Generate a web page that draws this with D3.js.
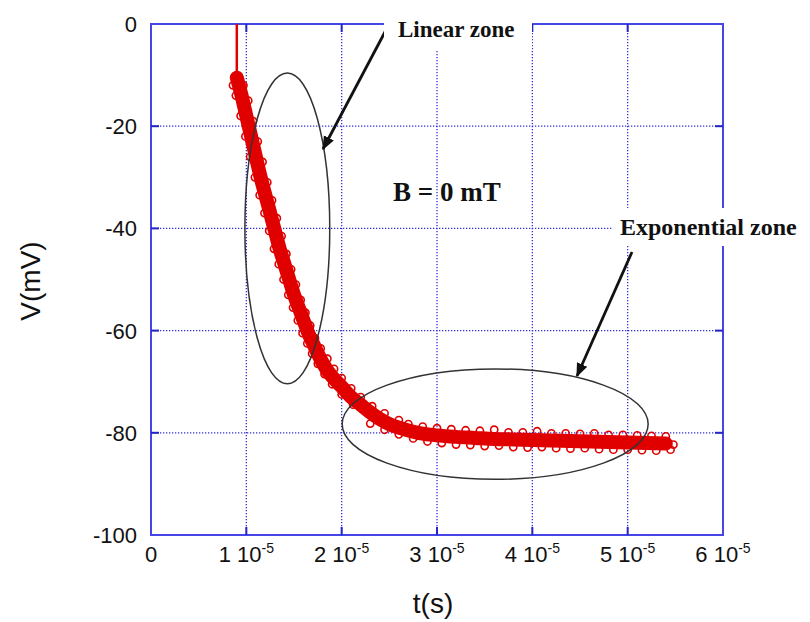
<!DOCTYPE html>
<html lang="en">
<head>
<meta charset="UTF-8">
<title>V(t) at B = 0 mT</title>
<script src="https://d3js.org/d3.v7.min.js"></script>
<style>
  body { margin: 0; background: #fff; }
  svg { display: block; }
  .tick-label { font-family: 'Liberation Sans', Arial, sans-serif; font-size: 22px; fill: #111; }
  .axis-title { font-family: 'Liberation Sans', Arial, sans-serif; font-size: 28px; fill: #111; }
  .note { font-family: 'Liberation Serif', 'Times New Roman', serif; font-weight: bold; fill: #111; }
</style>
</head>
<body>
<div id="chart"></div>
<script>
// tick values
const xTicks = [0, 1, 2, 3, 4, 5, 6];           // in units of 1e-5 s
const yTicks = [0, -20, -40, -60, -80, -100];   // mV

// red vertical rise before the decay (t in 1e-5 s, V in mV)
const riseT = [0.90, 0.90];
const riseV = [0, -10.5];

// centre of the measured band
const curveT = [0.90, 0.95, 1.00, 1.05, 1.10, 1.15, 1.20, 1.25, 1.30, 1.35, 1.40, 1.45, 1.50, 1.55, 1.60,
  1.65, 1.70, 1.75, 1.80, 1.85, 1.90, 2.00, 2.10, 2.20, 2.30, 2.40, 2.50, 2.60, 2.80, 3.00, 3.20, 3.40,
  3.60, 3.80, 4.00, 4.20, 4.40, 4.60, 4.80, 5.00, 5.20, 5.40];
const curveV = [-10.5, -14, -18, -22, -26, -30, -33.5, -37, -40.5, -44, -47, -50, -53, -55.5, -58,
  -60.5, -62.5, -64.5, -66.3, -67.8, -69, -71, -73, -74.5, -76, -77.3, -78.3, -79, -80, -80.5, -80.8, -81,
  -81.2, -81.3, -81.4, -81.5, -81.6, -81.7, -81.8, -81.9, -82, -82.1];

// scattered markers along the edges of the band
const edgeT = [
  0.86, 0.89, 0.94, 0.99, 1.04, 1.09, 1.14, 1.19, 1.24, 1.29, 1.34, 1.39, 1.44, 1.49, 1.54, 1.59, 1.64,
  1.69, 1.75, 1.82, 1.90, 2.00, 2.12,
  0.97, 1.02, 1.07, 1.12, 1.17, 1.22, 1.27, 1.32, 1.37, 1.42, 1.47, 1.52, 1.57, 1.62, 1.67, 1.72, 1.78,
  1.85, 1.92, 2.00, 2.10, 2.20, 2.32, 2.45, 2.60,
  2.70, 2.85, 3.00, 3.15, 3.30, 3.45, 3.60, 3.75, 3.90, 4.05, 4.20, 4.35, 4.50, 4.65, 4.80, 4.95, 5.10,
  5.25, 5.40,
  2.30, 2.45, 2.60, 2.75, 2.90, 3.05, 3.20, 3.35, 3.50, 3.65, 3.80, 3.95, 4.10, 4.25, 4.40, 4.55, 4.70,
  4.85, 5.00, 5.15, 5.30, 5.45, 5.48];
const edgeV = [
  -12, -14, -18, -22, -26, -30, -33.5, -37, -40.5, -44, -47, -50, -53, -55.5, -58, -60.5, -62.5,
  -64.5, -66.5, -68.5, -70.5, -72.5, -74.5,
  -12, -15, -19, -23, -27, -31, -34.5, -38, -41.5, -45, -48, -51, -54, -56.5, -59, -61.5, -63.5,
  -65.5, -67.5, -69.3, -71.3, -73, -74.8, -76.2, -77.5,
  -78.3, -78.8, -79.1, -79.3, -79.5, -79.6, -79.4, -79.9, -79.9, -79.7, -80.1, -80.1, -80.2, -80.1,
  -80.4, -80.4, -80.5, -80.6, -80.7,
  -78.2, -79.4, -80.3, -81.1, -81.7, -82, -82.3, -82.4, -82.6, -82.5, -82.8, -82.9, -82.8, -83, -83.1,
  -83, -83.2, -83.3, -83.3, -83.4, -83.5, -83.3, -82.3];

// annotation ellipses in data units: centre t, centre V, half-width t, half-height V
const zoneNames = ["Linear zone", "Exponential zone"];
const zoneCx = [1.43, 3.61];
const zoneCy = [-40, -78.3];
const zoneRx = [0.445, 1.605];
const zoneRy = [30.4, 10.8];

const W = 810, H = 622;
const svg = d3.select("#chart").append("svg").attr("width", W).attr("height", H);

const x = d3.scaleLinear().domain([0, 6]).range([151, 723]);
const y = d3.scaleLinear().domain([0, -100]).range([24, 535]);

// grid
const grid = svg.append("g");
grid.selectAll(".gx").data(xTicks.slice(1, -1)).enter().append("line")
  .attr("x1", d => x(d)).attr("x2", d => x(d)).attr("y1", y(0)).attr("y2", y(-100))
  .attr("stroke", "#2f2fd8").attr("stroke-width", 1.3).attr("stroke-dasharray", "1.3,1.7");
grid.selectAll(".gy").data(yTicks.slice(1, -1)).enter().append("line")
  .attr("x1", x(0)).attr("x2", x(6)).attr("y1", d => y(d)).attr("y2", d => y(d))
  .attr("stroke", "#2f2fd8").attr("stroke-width", 1.3).attr("stroke-dasharray", "1.3,1.7");

// frame
svg.append("rect").attr("x", x(0)).attr("y", y(0))
  .attr("width", x(6) - x(0)).attr("height", y(-100) - y(0))
  .attr("fill", "none").attr("stroke", "#4646e8").attr("stroke-width", 2);

// inner ticks on all sides
const tk = 8;
const ticks = svg.append("g").attr("stroke", "#2424c8").attr("stroke-width", 2);
xTicks.slice(1, -1).forEach(d => {
  ticks.append("line").attr("x1", x(d)).attr("x2", x(d)).attr("y1", y(0)).attr("y2", y(0) + tk);
  ticks.append("line").attr("x1", x(d)).attr("x2", x(d)).attr("y1", y(-100)).attr("y2", y(-100) - tk);
});
yTicks.slice(1, -1).forEach(d => {
  ticks.append("line").attr("x1", x(0)).attr("x2", x(0) + tk).attr("y1", y(d)).attr("y2", y(d));
  ticks.append("line").attr("x1", x(6)).attr("x2", x(6) - tk).attr("y1", y(d)).attr("y2", y(d));
});

// tick labels
svg.selectAll(".yl").data(yTicks).enter().append("text")
  .attr("class", "tick-label").attr("x", 137).attr("y", d => y(d)).attr("dy", "0.36em")
  .attr("text-anchor", "end").text(d => d);

const xl = svg.selectAll(".xl").data(xTicks).enter().append("text")
  .attr("class", "tick-label").attr("x", d => x(d)).attr("y", 562).attr("text-anchor", "middle");
xl.append("tspan").text(d => d === 0 ? "0" : d + " 10");
xl.filter(d => d !== 0).append("tspan").attr("dy", -9).style("font-size", "14px").text("-5");

// axis titles
svg.append("text").attr("class", "axis-title")
  .attr("transform", "translate(40,281) rotate(-90)").attr("text-anchor", "middle").text("V(mV)");
svg.append("text").attr("class", "axis-title")
  .attr("x", 433).attr("y", 613).attr("text-anchor", "middle").text("t(s)");

// data
const red = "#e00000";
svg.append("path")
  .attr("d", d3.line()(riseT.map((t, i) => [x(t), y(riseV[i])])))
  .attr("stroke", red).attr("stroke-width", 2.5).attr("fill", "none");

const curve = curveT.map((t, i) => [x(t), y(curveV[i])]);
svg.append("path")
  .attr("d", d3.line().curve(d3.curveMonotoneX)(curve))
  .attr("stroke", red).attr("stroke-width", 14).attr("stroke-linecap", "round").attr("fill", "none");

const markers = curveT.map((t, i) => [t, curveV[i]]).concat(edgeT.map((t, i) => [t, edgeV[i]]));
svg.selectAll(".pt").data(markers).enter().append("circle")
  .attr("cx", d => x(d[0])).attr("cy", d => y(d[1])).attr("r", 3.6)
  .attr("fill", "none").attr("stroke", red).attr("stroke-width", 1.6);

// ellipses
svg.selectAll(".zone").data(zoneNames).enter().append("ellipse")
  .attr("cx", (d, i) => x(zoneCx[i])).attr("cy", (d, i) => y(zoneCy[i]))
  .attr("rx", (d, i) => x(zoneCx[i] + zoneRx[i]) - x(zoneCx[i]))
  .attr("ry", (d, i) => y(zoneCy[i] - zoneRy[i]) - y(zoneCy[i]))
  .attr("fill", "none").attr("stroke", "#333").attr("stroke-width", 1.5);

// arrows
const defs = svg.append("defs");
defs.append("marker").attr("id", "head").attr("viewBox", "0 0 10 10")
  .attr("refX", 9).attr("refY", 5).attr("markerWidth", 5).attr("markerHeight", 5)
  .attr("orient", "auto").attr("markerUnits", "strokeWidth")
  .append("path").attr("d", "M0,1 L10,5 L0,9 Z").attr("fill", "#111");

const arrows = [[386, 30, 323, 149], [632, 252, 577, 376]];
arrows.forEach(a => {
  svg.append("line").attr("x1", a[0]).attr("y1", a[1]).attr("x2", a[2]).attr("y2", a[3])
    .attr("stroke", "#111").attr("stroke-width", 2.8).attr("marker-end", "url(#head)");
});

// labels with white boxes
svg.append("rect").attr("x", 384).attr("y", 8).attr("width", 148).attr("height", 42).attr("fill", "#fff");
svg.append("text").attr("class", "note").attr("x", 398).attr("y", 37)
  .style("font-size", "23px").text(zoneNames[0]);

svg.append("rect").attr("x", 612).attr("y", 208).attr("width", 198).attr("height", 38).attr("fill", "#fff");
svg.append("text").attr("class", "note").attr("x", 620).attr("y", 235)
  .style("font-size", "24px").text(zoneNames[1]);

svg.append("text").attr("class", "note").attr("x", 393).attr("y", 201)
  .style("font-size", "27px").text("B = 0 mT");
</script>
</body>
</html>
